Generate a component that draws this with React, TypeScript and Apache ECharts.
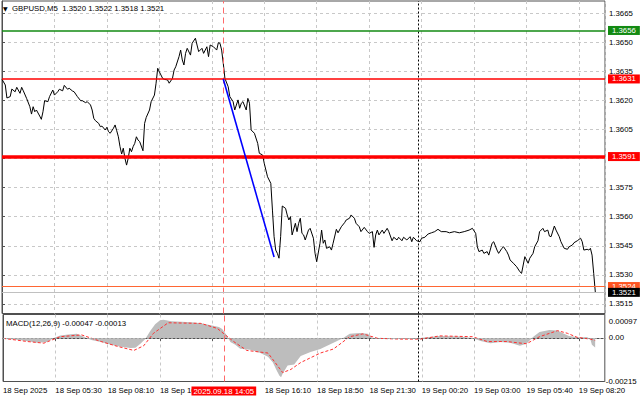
import React, { useEffect, useRef } from "react";
import * as echarts from "echarts";

const FONT = '"Liberation Sans", Arial, sans-serif';

const symbolTitle = "GBPUSD,M5  1.3520 1.3522 1.3518 1.3521";
const macdTitle = "MACD(12,26,9) -0.00047 -0.00013";

// x axis: bar index (M5 bars) ; one label every 32 bars
const barsPerLabel = 32;
const lastBarSlot = 367.9;
const timeLabels = [
  "18 Sep 2025",
  "18 Sep 05:30",
  "18 Sep 08:10",
  "18 Sep 10:50",
  "",
  "18 Sep 16:10",
  "18 Sep 18:50",
  "18 Sep 21:30",
  "19 Sep 00:20",
  "19 Sep 03:00",
  "19 Sep 05:40",
  "19 Sep 08:20",
];

const priceTicks = [1.3515, 1.353, 1.3545, 1.356, 1.3575, 1.359, 1.3605, 1.362, 1.3635, 1.365, 1.3665];
const priceMin = 1.35101;
const priceMax = 1.367119;
const macdTicks = [-0.00215, 0, 0.00097];
const macdMin = -0.00216;
const macdMax = 0.00116;

// [bar index, close]
const priceLine: [number, number][] = [
  [0, 1.36308], [2, 1.36279], [3, 1.36212], [5, 1.36219], [6, 1.36258], [8, 1.36244], [9, 1.36267],
  [11, 1.36236], [12, 1.36267], [13, 1.36249], [15, 1.3621], [17, 1.36167], [18, 1.36129], [19, 1.36167],
  [20, 1.36141], [21, 1.3615], [23, 1.36119], [24, 1.36102], [25, 1.36141], [26, 1.36198], [28, 1.36193],
  [29, 1.36219], [31, 1.36253], [32, 1.36227], [34, 1.36244], [35, 1.36257], [37, 1.36249], [38, 1.36277],
  [40, 1.36257], [41, 1.36262], [43, 1.36248], [44, 1.36244], [46, 1.36219], [48, 1.36198], [49, 1.36198],
  [51, 1.36188], [52, 1.36193], [54, 1.36176], [55, 1.3615], [56, 1.36107], [57, 1.36095], [59, 1.36081],
  [60, 1.36064], [61, 1.36067], [63, 1.36047], [64, 1.36061], [65, 1.36038], [66, 1.3603], [68, 1.36056],
  [69, 1.36073], [70, 1.36043], [71, 1.36012], [72, 1.35961], [73, 1.35923], [74, 1.35953], [75, 1.35901],
  [76, 1.35866], [77, 1.35901], [78, 1.35953], [79, 1.35935], [80, 1.35961], [81, 1.35978], [82, 1.36012],
  [83, 1.35995], [84, 1.35987], [86, 1.3594], [87, 1.36081], [88, 1.36112], [90, 1.3615], [91, 1.36193],
  [93, 1.36227], [94, 1.36288], [95, 1.36365], [96, 1.36347], [98, 1.36313], [99, 1.36308], [101, 1.36305],
  [102, 1.36288], [104, 1.36313], [105, 1.36356], [106, 1.36373], [108, 1.36425], [109, 1.36459],
  [110, 1.36408], [111, 1.36382], [112, 1.36442], [113, 1.36468], [115, 1.36433], [116, 1.36494],
  [118, 1.3652], [119, 1.36485], [120, 1.36451], [122, 1.36468], [123, 1.36442], [125, 1.36476],
  [126, 1.36425], [127, 1.36485], [129, 1.36476], [131, 1.36459], [132, 1.36497], [133, 1.36494],
  [134, 1.36459], [135, 1.36391], [136, 1.36313], [138, 1.3627], [139, 1.36219], [141, 1.36193],
  [142, 1.3615], [144, 1.36202], [145, 1.36159], [146, 1.36185], [147, 1.36193], [149, 1.3615],
  [150, 1.3621], [151, 1.36185], [152, 1.36047], [154, 1.3603], [156, 1.35978], [157, 1.35927],
  [159, 1.35918], [160, 1.35875], [162, 1.35806], [164, 1.35772], [165, 1.35634], [166, 1.35497],
  [167, 1.35428], [168, 1.35411], [169, 1.35386], [170, 1.35497], [171, 1.35655], [173, 1.35643],
  [174, 1.35609], [175, 1.35583], [176, 1.356], [177, 1.35506], [179, 1.35566], [180, 1.35523],
  [181, 1.35566], [182, 1.35592], [183, 1.35514], [184, 1.35506], [185, 1.3548], [187, 1.35531],
  [188, 1.3554], [190, 1.35489], [191, 1.35411], [192, 1.35368], [194, 1.35463], [195, 1.35531],
  [196, 1.35463], [197, 1.3548], [198, 1.35437], [200, 1.35445], [201, 1.35428], [202, 1.35463],
  [204, 1.35535], [205, 1.35517], [207, 1.35548], [209, 1.35569], [210, 1.35583], [212, 1.35592],
  [213, 1.35609], [215, 1.35592], [216, 1.35566], [218, 1.35548], [219, 1.35523], [221, 1.35545],
  [223, 1.35523], [224, 1.35514], [226, 1.35523], [227, 1.35442], [228, 1.35506], [229, 1.35531],
  [230, 1.35506], [232, 1.35531], [233, 1.35514], [235, 1.3554], [236, 1.35523], [238, 1.35476],
  [239, 1.35494], [241, 1.3548], [242, 1.35494], [244, 1.35476], [245, 1.35494], [247, 1.3548],
  [249, 1.35497], [250, 1.35471], [251, 1.35494], [253, 1.35476], [255, 1.35471], [256, 1.35489],
  [258, 1.35494], [260, 1.35511], [262, 1.35517], [264, 1.35523], [266, 1.35535], [268, 1.35523],
  [271, 1.35523], [273, 1.35517], [276, 1.35523], [279, 1.35517], [282, 1.35523], [285, 1.35531],
  [287, 1.3554], [289, 1.35514], [290, 1.35445], [291, 1.3542], [293, 1.35428], [294, 1.35411],
  [296, 1.3542], [297, 1.35402], [299, 1.35463], [300, 1.35471], [302, 1.35428], [303, 1.35411],
  [305, 1.35437], [306, 1.35445], [308, 1.3542], [309, 1.35402], [310, 1.35377], [312, 1.3536],
  [314, 1.35342], [316, 1.35316], [317, 1.35308], [318, 1.35351], [319, 1.35394], [321, 1.3536],
  [322, 1.35386], [324, 1.35411], [325, 1.35445], [327, 1.35476], [328, 1.35523], [330, 1.3554],
  [331, 1.35523], [333, 1.35531], [334, 1.355], [335, 1.35497], [337, 1.35552], [338, 1.35531],
  [340, 1.35497], [341, 1.35471], [343, 1.35437], [345, 1.35432], [346, 1.35445], [348, 1.35454],
  [349, 1.35466], [351, 1.35476], [353, 1.35489], [354, 1.35471], [355, 1.35428], [357, 1.35432],
  [358, 1.35428], [359, 1.35437], [360, 1.35402], [361, 1.35308], [362, 1.3521],
];

// MACD main (histogram) [bar index, value]
const macdHist: [number, number][] = [
  [0, -0.00005], [5, -0.00007], [11, -0.00012], [15, -0.00017], [21, -0.00024], [27, -0.0002],
  [31, 0], [35, 0.00012], [40, 0.00017], [45, 0.0002], [49, 0.00007], [54, -0.0001], [60, -0.0002],
  [66, -0.00034], [72, -0.00044], [78, -0.0005], [81, -0.00049], [84, -0.00029], [87, -0.00005],
  [90, 0.00034], [93, 0.00068], [96, 0.00088], [98, 0.0009], [103, 0.00083], [109, 0.0008],
  [115, 0.00078], [121, 0.00073], [127, 0.00063], [132, 0.00054], [134, 0.00044], [137, 0.0001],
  [139, -0.0002], [142, -0.00034], [145, -0.00054], [151, -0.00059], [157, -0.00073], [162, -0.00093],
  [165, -0.00122], [167, -0.00156], [169, -0.00188], [170, -0.00195], [171, -0.00176], [174, -0.00137],
  [178, -0.00132], [182, -0.0009], [188, -0.0007], [194, -0.00055], [202, -0.00024], [208, 0], [212, 0.0002],
  [218, 0.00024], [223, 0.0002], [226, -0.00002], [237, -0.00005], [249, -0.00005], [261, 0.00005],
  [267, 0.0001], [279, 0.00007], [287, 0], [292, -0.00015], [298, -0.00027], [304, -0.0002],
  [310, -0.00024], [316, -0.00039], [320, -0.00029], [324, 0.00005], [328, 0.00029], [334, 0.00039],
  [339, 0.00037], [342, 0.00024], [346, 0.0001], [353, 0.00002], [357, 0.00005], [359, -0.00005],
  [360, -0.00034], [362, -0.00047],
];

// MACD signal [bar index, value]
const macdSignal: [number, number][] = [
  [0, -0.00002], [15, -0.00018], [25, -0.00026], [35, 0.00006], [48, 0.00015], [60, -0.00018],
  [70, -0.00042], [80, -0.00062], [86, -0.00039], [92, 0.00023], [101, 0.00075], [121, 0.00072],
  [131, 0.00047], [141, -0.00018], [149, -0.00062], [162, -0.00075], [171, -0.00172], [176, -0.00156],
  [182, -0.00122], [194, -0.00075], [202, -0.00055], [212, 0.00006], [220, 0.0002], [229, -0.00002],
  [243, -0.00006], [255, -0.00006], [267, 0.0001], [287, 0.00006], [296, -0.00018], [308, -0.00018],
  [320, -0.00029], [328, 0.00006], [339, 0.00036], [345, 0.00023], [351, 0.00003], [359, -0.00006],
  [362, -0.00013],
];

// blue trend segment [bar index, price]
const trendLine: [number, number][] = [
  [135, 1.3631],
  [166, 1.35392],
];

// horizontal levels: resistance, entry, support, ask, bid
const levelValues = [1.3656, 1.3631, 1.3591, 1.3524, 1.3521];
const levelColors = ["#128a12", "#ff0000", "#ff0000", "#ff6633", "#c0c0c0"];
const levelLabelBgs = ["#128a12", "#ff0000", "#ff0000", "#ff5522", "#000000"];
const levelWidths = [1.5, 1.5, 3.5, 1, 1];

// vertical markers: selected time, day separator
const markerBars = [135, 254];
const markerText = "2025.09.18 14:05";

export default function App() {
  const ref = useRef<HTMLDivElement>(null);

  useEffect(() => {
    if (!ref.current) return;
    const chart = echarts.init(ref.current, null, { renderer: "svg" });

    const gridLine = { color: "#c8c8c8", type: [3, 3] as number[], width: 1 };
    const frameColor = "#505050";
    const txt = { fontFamily: FONT, fontSize: 7.8, color: "#000" };

    const hLevels = levelValues.map((v, i) => ({
      yAxis: v,
      lineStyle: { color: levelColors[i], width: levelWidths[i], type: "solid" },
      label: {
        show: true,
        position: "end",
        distance: 3,
        formatter: v.toFixed(4),
        backgroundColor: levelLabelBgs[i],
        color: "#fff",
        padding: [1, 4, 0, 4],
        fontFamily: FONT,
        fontSize: 7.8,
        lineHeight: 8,
      },
    }));

    const vMarkers = (withLabel: boolean) => [
      {
        xAxis: markerBars[0],
        lineStyle: { color: "#ff6a6a", width: 1, type: [6, 4] },
        label: withLabel
          ? {
              show: true,
              position: "start",
              distance: 5,
              formatter: markerText,
              backgroundColor: "#ff0000",
              color: "#fff",
              padding: [1, 2, 0, 2],
              fontFamily: FONT,
              fontSize: 7.8,
            }
          : { show: false },
      },
      {
        xAxis: markerBars[1],
        lineStyle: { color: "#000", width: 1, type: [2, 2] },
        label: { show: false },
      },
    ];

    // MACD window minimum label (drawn at its value through the MACD scale)
    const macdMinLabels = macdTicks
      .filter((v) => v < 0)
      .map((v) => ({
        yAxis: v,
        lineStyle: { width: 0, color: "rgba(0,0,0,0)" },
        label: {
          show: true,
          position: "end",
          distance: 1,
          formatter: v.toFixed(5),
          ...txt,
          opacity: 1,
          padding: [0, 0, 10, 0],
        },
      }));

    const xLabelFmt = (v: number) =>
      Math.abs(v % barsPerLabel) < 1e-6 ? timeLabels[Math.round(v / barsPerLabel)] ?? "" : "";

    chart.setOption({
      animation: false,
      backgroundColor: "#ffffff",
      textStyle: { fontFamily: FONT },
      title: [
        {
          text: "{tri|▼}  " + symbolTitle,
          left: 3,
          top: 4,
          padding: 0,
          textStyle: {
            ...txt,
            fontWeight: "normal",
            rich: {
              tri: { fontFamily: '"DejaVu Sans"', fontSize: 6, color: "#000" },
            },
          },
        },
        {
          text: macdTitle,
          left: 6,
          top: 319,
          padding: 0,
          textStyle: { ...txt, fontWeight: "normal" },
        },
      ],
      grid: [
        { left: 2, right: 35, top: 1, height: 312.5, show: true, borderColor: frameColor, borderWidth: 1, backgroundColor: "transparent" },
        { left: 2, right: 35, top: 314.5, height: 67, show: true, borderColor: frameColor, borderWidth: 1, backgroundColor: "transparent" },
      ],
      xAxis: [
        {
          type: "value",
          gridIndex: 0,
          min: 0,
          max: lastBarSlot,
          interval: barsPerLabel,
          axisLine: { show: false },
          axisTick: { show: false },
          axisLabel: { show: false },
          splitLine: { show: true, lineStyle: gridLine },
        },
        {
          type: "value",
          gridIndex: 1,
          min: 0,
          max: lastBarSlot,
          interval: barsPerLabel,
          axisLine: { show: true, lineStyle: { color: frameColor } },
          axisTick: { show: true, length: 3, lineStyle: { color: frameColor } },
          axisLabel: { show: true, align: "left", margin: 5, ...txt, formatter: xLabelFmt, showMaxLabel: false, hideOverlap: false },
          splitLine: { show: true, lineStyle: gridLine },
        },
      ],
      yAxis: [
        {
          type: "value",
          gridIndex: 0,
          position: "right",
          min: priceMin,
          max: priceMax,
          axisLine: { show: true, lineStyle: { color: frameColor } },
          axisTick: { show: true, length: 3, customValues: priceTicks, lineStyle: { color: frameColor } },
          axisLabel: { show: true, customValues: priceTicks, margin: 4, ...txt, formatter: (v: number) => v.toFixed(4) },
          splitLine: { show: true, lineStyle: gridLine },
        },
        {
          type: "value",
          gridIndex: 1,
          position: "right",
          min: macdMin,
          max: macdMax,
          axisLine: { show: true, lineStyle: { color: frameColor } },
          axisTick: { show: false },
          axisLabel: {
            show: true,
            customValues: macdTicks.filter((v) => v >= 0),
            showMaxLabel: true,
            hideOverlap: false,
            margin: 4,
            ...txt,
            formatter: (v: number) => (Math.abs(v) < 1e-9 ? "{m|0.00}" : `{t|${v.toFixed(5)}}`),
            rich: {
              m: { ...txt },
              t: { ...txt, padding: [6, 0, 0, 0] },
            },
          },
          splitLine: { show: false },
        },
      ],
      series: [
        {
          name: "price",
          type: "line",
          xAxisIndex: 0,
          yAxisIndex: 0,
          data: priceLine,
          showSymbol: false,
          symbol: "none",
          lineStyle: { color: "#000", width: 1 },
          z: 3,
          markLine: {
            silent: true,
            symbol: ["none", "none"],
            precision: 6,
            z: 4,
            data: [...vMarkers(false), ...hLevels],
          },
        },
        {
          name: "trend",
          type: "line",
          xAxisIndex: 0,
          yAxisIndex: 0,
          data: trendLine,
          showSymbol: false,
          symbol: "none",
          lineStyle: { color: "#0000ff", width: 1.6 },
          z: 6,
        },
        {
          name: "MACD",
          type: "line",
          xAxisIndex: 1,
          yAxisIndex: 1,
          data: macdHist,
          showSymbol: false,
          symbol: "none",
          lineStyle: { width: 0, color: "#bdbdbd" },
          areaStyle: { color: "#bdbdbd", opacity: 1 },
          z: 2,
          markLine: {
            silent: true,
            symbol: ["none", "none"],
            precision: 6,
            z: 4,
            data: [
              { yAxis: 0, lineStyle: { color: "#a0a0a0", width: 1, type: [2, 2] }, label: { show: false } },
              ...vMarkers(true),
              ...macdMinLabels,
            ],
          },
        },
        {
          name: "Signal",
          type: "line",
          xAxisIndex: 1,
          yAxisIndex: 1,
          data: macdSignal,
          showSymbol: false,
          symbol: "none",
          lineStyle: { color: "#ff3030", width: 1, type: [3, 2] },
          z: 3,
        },
      ],
    });

    return () => chart.dispose();
  }, []);

  return <div ref={ref} style={{ position: "absolute", left: 0, top: 0, width: 640, height: 401 }} />;
}
